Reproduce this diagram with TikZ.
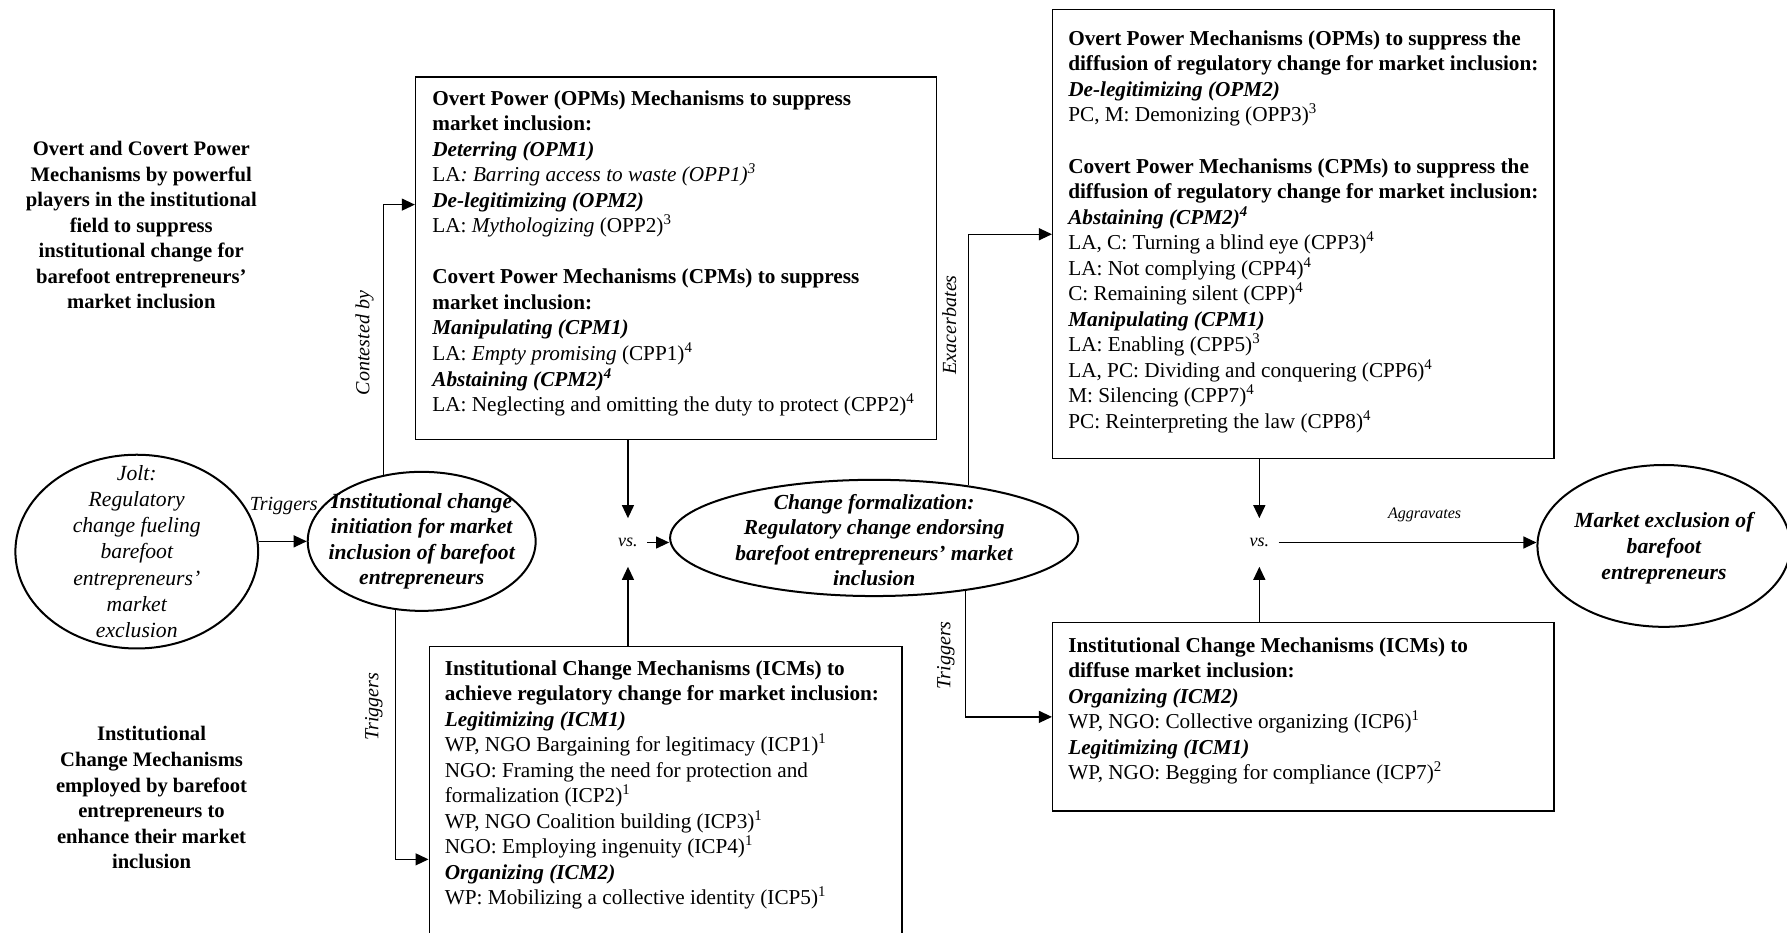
\documentclass[tikz,border=0pt]{standalone}
\usepackage{fontspec}
\setmainfont{Liberation Serif}
\usetikzlibrary{shapes.geometric,arrows.meta}
\newcommand{\mech}[1]{\textbf{\textit{#1}}}
\newcommand{\sups}[1]{\textsuperscript{#1}}

\begin{document}
\begin{tikzpicture}[
  mechbox/.style={draw, line width=0.6pt, anchor=north west, inner sep=0pt},
  boxtext/.style={anchor=north west, inner sep=0pt, align=left, font=\fontsize{10.6}{12.75}\selectfont},
  oval/.style={draw, ellipse, line width=1pt, inner sep=0pt},
  ovaltext/.style={align=center, inner sep=0pt, font=\bfseries\itshape\fontsize{10.8}{12.75}\selectfont},
  heading/.style={align=center, font=\bfseries\fontsize{10.3}{12.75}\selectfont},
  lbl/.style={font=\itshape\fontsize{10}{12}\selectfont, inner sep=1pt},
  vsnode/.style={font=\itshape\fontsize{9}{11}\selectfont, inner sep=0pt, minimum width=0.66cm, minimum height=0.84cm},
  arrow/.style={line width=0.6pt, -{Triangle[length=6.5pt,width=6pt]}}
]
\useasboundingbox (0,0) rectangle (31.36,-16.36);

% Row headings
\node[heading] (headpower) at (2.48,-3.95) {Overt and Covert Power\\Mechanisms by powerful\\players in the institutional\\field to suppress\\institutional change for\\barefoot entrepreneurs’\\market inclusion};
\node[heading] (headchange) at (2.66,-14.0) {Institutional\\Change Mechanisms\\employed by barefoot\\entrepreneurs to\\enhance their market\\inclusion};

% Ovals
\node[oval, minimum width=4.26cm, minimum height=3.4cm] (jolt) at (2.40,-9.68) {};
\node[ovaltext, font=\itshape\fontsize{10.8}{13}\selectfont] (jolttxt) at (jolt) {Jolt:\\Regulatory\\change fueling\\barefoot\\entrepreneurs’\\market\\exclusion};
\node[oval, minimum width=4.0cm, minimum height=2.44cm] (init) at (7.40,-9.50) {};
\node[ovaltext] (inittxt) at (init) {Institutional change\\initiation for market\\inclusion of barefoot\\entrepreneurs};
\node[oval, minimum width=7.16cm, minimum height=2.04cm] (formal) at (15.34,-9.44) {};
\node[ovaltext, font=\bfseries\itshape\fontsize{10.7}{12.75}\selectfont] (formaltxt) at ([yshift=-0.04cm]formal) {Change formalization:\\Regulatory change endorsing\\barefoot entrepreneurs’ market\\inclusion};
\node[oval, minimum width=4.44cm, minimum height=2.84cm] (market) at (29.20,-9.58) {};
\node[ovaltext] (markettxt) at ([yshift=-0.04cm]market) {Market exclusion of\\barefoot\\entrepreneurs};

% Mechanism boxes
\node[mechbox, minimum width=9.14cm, minimum height=6.36cm] (opmA) at (7.28,-1.34) {};
\node[boxtext] (opmAtxt) at ([shift={(0.30,-0.24)}]opmA.north west) {%
\textbf{Overt Power (OPMs) Mechanisms to suppress}\\
\textbf{market inclusion:}\\
\mech{Deterring (OPM1)}\\
LA\textit{: Barring access to waste (OPP1)\sups{3}}\\
\mech{De-legitimizing (OPM2)}\\
LA: \textit{Mythologizing} (OPP2)\sups{3}\\[12.75pt]
\textbf{Covert Power Mechanisms (CPMs) to suppress}\\
\textbf{market inclusion:}\\
\mech{Manipulating (CPM1)}\\
LA: \textit{Empty promising} (CPP1)\sups{4}\\
\mech{Abstaining (CPM2)\sups{4}}\\
LA: Neglecting and omitting the duty to protect (CPP2)\sups{4}};

\node[mechbox, minimum width=8.30cm, minimum height=6.0cm] (icmA) at (7.52,-11.34) {};
\node[boxtext] (icmAtxt) at ([shift={(0.28,-0.24)}]icmA.north west) {%
\textbf{Institutional Change Mechanisms (ICMs) to}\\
\textbf{achieve regulatory change for market inclusion:}\\
\mech{Legitimizing (ICM1)}\\
WP, NGO Bargaining for legitimacy (ICP1)\sups{1}\\
NGO: Framing the need for protection and\\
formalization (ICP2)\sups{1}\\
WP, NGO Coalition building (ICP3)\sups{1}\\
NGO: Employing ingenuity (ICP4)\sups{1}\\
\mech{Organizing (ICM2)}\\
WP: Mobilizing a collective identity (ICP5)\sups{1}};

\node[mechbox, minimum width=8.80cm, minimum height=7.88cm] (opmB) at (18.46,-0.16) {};
\node[boxtext] (opmBtxt) at ([shift={(0.28,-0.37)}]opmB.north west) {%
\textbf{Overt Power Mechanisms (OPMs) to suppress the}\\
\textbf{diffusion of regulatory change for market inclusion:}\\
\mech{De-legitimizing (OPM2)}\\
PC, M: Demonizing (OPP3)\sups{3}\\[12.75pt]
\textbf{Covert Power Mechanisms (CPMs) to suppress the}\\
\textbf{diffusion of regulatory change for market inclusion:}\\
\mech{Abstaining (CPM2)\sups{4}}\\
LA, C: Turning a blind eye (CPP3)\sups{4}\\
LA: Not complying (CPP4)\sups{4}\\
C: Remaining silent (CPP)\sups{4}\\
\mech{Manipulating (CPM1)}\\
LA: Enabling (CPP5)\sups{3}\\
LA, PC: Dividing and conquering (CPP6)\sups{4}\\
M: Silencing (CPP7)\sups{4}\\
PC: Reinterpreting the law (CPP8)\sups{4}};

\node[mechbox, minimum width=8.80cm, minimum height=3.30cm] (icmB) at (18.46,-10.92) {};
\node[boxtext] (icmBtxt) at ([shift={(0.28,-0.26)}]icmB.north west) {%
\textbf{Institutional Change Mechanisms (ICMs) to}\\
\textbf{diffuse market inclusion:}\\
\mech{Organizing (ICM2)}\\
WP, NGO: Collective organizing (ICP6)\sups{1}\\
\mech{Legitimizing (ICM1)}\\
WP, NGO: Begging for compliance (ICP7)\sups{2}};

% vs. points
\node[vsnode] (vsA) at (11.02,-9.52) {vs.};
\node[vsnode] (vsB) at (22.10,-9.52) {vs.};

% Connectors
\draw[arrow] (jolt.east |- init.west) -- (init.west);
\draw[arrow] (init.120) |- ([yshift=0.94cm]opmA.west);
\draw[arrow] (init.-111) |- ([yshift=-0.73cm]icmA.west);
\draw[arrow] (vsA.north |- opmA.south) -- (vsA.north);
\draw[arrow] (vsA.south |- icmA.north) -- (vsA.south);
\draw[arrow] (vsA.east) -- (vsA.east -| formal.west);
\draw[arrow] (formal.29) |- (opmB.west);
\draw[arrow] (formal.-30) |- (icmB.west);
\draw[arrow] (vsB.north |- opmB.south) -- (vsB.north);
\draw[arrow] (vsB.south |- icmB.north) -- (vsB.south);
\draw[arrow] (vsB.east) -- (vsB.east -| market.west);

% Connector labels
\node[lbl] (ltrigA) at (4.98,-8.88) {Triggers};
\node[lbl, rotate=90] (lcontest) at (6.40,-6.02) {Contested by};
\node[lbl, rotate=90] (ltrigB) at (6.56,-12.40) {Triggers};
\node[lbl, rotate=90] (lexac) at (16.66,-5.70) {Exacerbates};
\node[lbl, rotate=90] (ltrigC) at (16.60,-11.50) {Triggers};
\node[lbl, font=\itshape\fontsize{8}{10}\selectfont] (laggr) at (25.00,-9.04) {Aggravates};
\end{tikzpicture}
\end{document}
